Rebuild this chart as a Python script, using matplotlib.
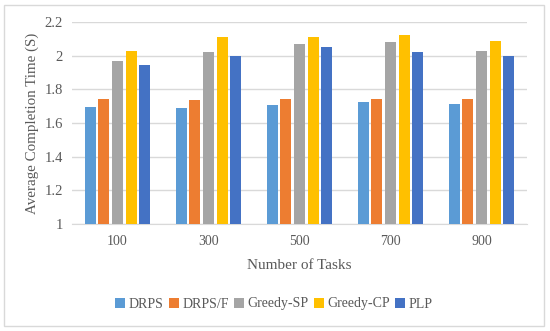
import matplotlib.pyplot as plt
import numpy as np
from matplotlib.patches import Rectangle

plt.rcParams['font.family'] = ['Liberation Serif', 'DejaVu Serif']

tasks = ["100", "300", "500", "700", "900"]
series = ["DRPS", "DRPS/F", "Greedy-SP", "Greedy-CP", "PLP"]
drps = [1.695, 1.690, 1.706, 1.725, 1.712]
drps_f = [1.743, 1.734, 1.743, 1.743, 1.743]
greedy_sp = [1.970, 2.021, 2.070, 2.082, 2.030]
greedy_cp = [2.025, 2.108, 2.108, 2.120, 2.090]
plp = [1.943, 2.000, 2.052, 2.022, 2.000]
colors = ["#5B9BD5", "#ED7D31", "#A5A5A5", "#FFC000", "#4472C4"]

values = [drps, drps_f, greedy_sp, greedy_cp, plp]

fig = plt.figure(figsize=(5.5, 3.31), dpi=100)
ax = fig.add_axes([72 / 550, 1 - 224 / 331, (527 - 72) / 550, (224 - 22) / 331])

x = np.arange(len(tasks))
pitch = 0.15
for i, (name, vals) in enumerate(zip(series, values)):
    off = (i - 2) * pitch
    ax.bar(x + off, np.array(vals) - 1, width=0.118, bottom=1,
           color=colors[i], label=name, zorder=3)

ax.set_xlim(-0.5, len(tasks) - 0.5)
ax.set_ylim(1, 2.2)
ax.set_yticks([1, 1.2, 1.4, 1.6, 1.8, 2, 2.2])
ax.set_yticklabels(["1", "1.2", "1.4", "1.6", "1.8", "2", "2.2"])
ax.set_xticks(x)
ax.set_xticklabels(tasks)
ax.tick_params(axis='y', length=0, labelsize=10.5, colors="#595959", pad=6.5)
ax.tick_params(axis='x', length=0, labelsize=10, colors="#595959", pad=8)
ax.yaxis.grid(True, color="#D9D9D9", linewidth=1, zorder=0)
for s in ["top", "right", "left"]:
    ax.spines[s].set_visible(False)
ax.spines["bottom"].set_color("#D9D9D9")
ax.set_ylabel("Average Completion Time (S)", fontsize=10.8, color="#595959")
ax.yaxis.set_label_coords(-0.088, 0.5)
ax.set_xlabel("Number of Tasks", fontsize=11, color="#595959")
ax.xaxis.set_label_coords(0.5, -0.203)
ax.xaxis.label.set_va("center")
ax.yaxis.label.set_va("center")

leg = fig.legend(loc="center", bbox_to_anchor=(274 / 550, 1 - 304 / 331), ncol=5,
                 frameon=False, fontsize=10, handlelength=0.7, handleheight=0.7,
                 handletextpad=0.25, columnspacing=0.4)
for t in leg.get_texts():
    t.set_color("#595959")

fig.patches.append(Rectangle((4 / 550, 1 - 326 / 331), 540 / 550, 321 / 331,
                             transform=fig.transFigure, fill=False,
                             edgecolor="#D9D9D9", linewidth=1))

fig.savefig("out.png", dpi=100)
